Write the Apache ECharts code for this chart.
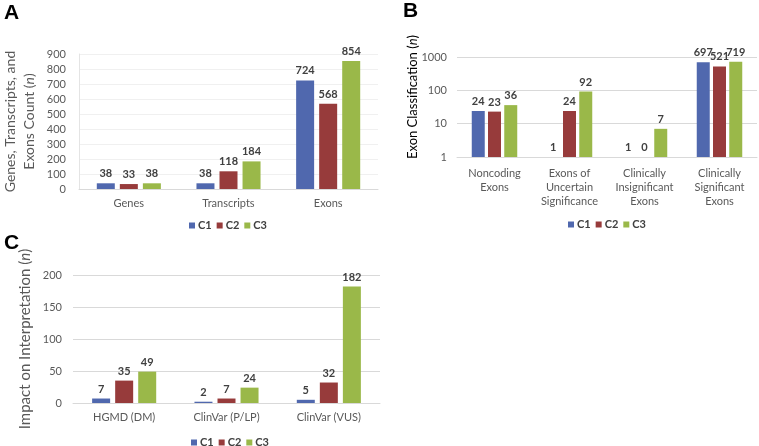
<!DOCTYPE html>
<html>
<head>
<meta charset="utf-8">
<script src="https://cdn.jsdelivr.net/npm/echarts@6/dist/echarts.min.js"></script>
<style>
  html, body { margin: 0; padding: 0; background: #fff; }
  #chart { width: 759px; height: 446px; }
</style>
</head>
<body>
<div id="chart"></div>
<script>
// panel A - counts
const catsA = ['Genes', 'Transcripts', 'Exons'];
const a_c1 = [38, 38, 724];
const a_c2 = [33, 118, 568];
const a_c3 = [38, 184, 854];

// panel B - exon classification (log scale)
const catsB = ['Noncoding\nExons', 'Exons of\nUncertain\nSignificance', 'Clinically\nInsignificant\nExons', 'Clinically\nSignificant\nExons'];
const b_c1 = [24, 1, 1, 697];
const b_c2 = [23, 24, 0, 521];
const b_c3 = [36, 92, 7, 719];

// panel C - impact on interpretation
const catsC = ['HGMD (DM)', 'ClinVar (P/LP)', 'ClinVar (VUS)'];
const c_c1 = [7, 2, 5];
const c_c2 = [35, 7, 32];
const c_c3 = [49, 24, 182];

const seriesNames = ['C1', 'C2', 'C3'];
const colors = ['#5068AE', '#973B3B', '#9AB849'];

const FONT = 'Lato, "Open Sans", sans-serif';
const gray = '#595959';

let chart = echarts.init(document.getElementById('chart'));

function barSeries(name, data, idx, color, cfg) {
  return {
    name: name,
    type: 'bar',
    xAxisIndex: idx,
    yAxisIndex: idx,
    // log axis cannot show 0, so it sits on the baseline
    data: cfg.log ? data.map(v => Math.max(v, 1)) : data,
    barWidth: cfg.barWidth,
    barGap: cfg.barGap,
    itemStyle: { color: color },
    label: {
      show: true,
      position: 'top',
      distance: 4,
      fontFamily: FONT,
      fontWeight: 'bold',
      fontSize: 11,
      color: '#404040',
      formatter: p => String(data[p.dataIndex])
    }
  };
}

function legend(left, top) {
  return {
    left: left, top: top,
    data: seriesNames,
    icon: 'rect',
    itemWidth: 6, itemHeight: 6, itemGap: 5,
    textStyle: { fontFamily: FONT, fontWeight: 'bold', fontSize: 11, color: '#404040', padding: [0, 0, 0, -2] }
  };
}

function nameStyle(size) {
  return {
    fontFamily: FONT, fontSize: size, color: gray, lineHeight: size + 5,
    rich: { i: { fontFamily: FONT, fontSize: size, color: gray, fontStyle: 'italic' } }
  };
}

const valueLabel = { fontFamily: FONT, fontSize: 11, color: gray };
const letterFont = 'bold 21px "Liberation Sans", Arial, sans-serif';

let option = {
  animation: false,
  textStyle: { fontFamily: FONT },
  graphic: [
    { type: 'text', left: 4, top: 3, style: { text: 'A', font: letterFont, fill: '#000' } },
    { type: 'text', left: 403, top: 1, style: { text: 'B', font: letterFont, fill: '#000' } },
    { type: 'text', left: 4, top: 233, style: { text: 'C', font: letterFont, fill: '#000' } },
    // panel B axis title sits a little above the plot middle
    { type: 'text', x: 413, y: 97, rotation: Math.PI / 2,
      style: Object.assign({ text: 'Exon Classification ({i|n})', align: 'center', verticalAlign: 'middle' }, nameStyle(13)) }
  ],
  legend: [legend(184, 215), legend(563, 214), legend(186, 432)],
  grid: [
    { left: 73, top: 54, width: 305, height: 135 },
    { left: 457, top: 57, width: 300, height: 100 },
    { left: 73, top: 275, width: 307, height: 128 }
  ],
  xAxis: [
    { type: 'category', gridIndex: 0, data: catsA, axisTick: { show: false },
      axisLine: { lineStyle: { color: '#d9d9d9' } }, axisLabel: Object.assign({ margin: 9, interval: 0 }, valueLabel) },
    { type: 'category', gridIndex: 1, data: catsB, axisTick: { show: false },
      axisLine: { lineStyle: { color: '#d9d9d9' } }, axisLabel: Object.assign({ margin: 9, lineHeight: 14, interval: 0 }, valueLabel) },
    { type: 'category', gridIndex: 2, data: catsC, axisTick: { show: false },
      axisLine: { lineStyle: { color: '#d9d9d9' } }, axisLabel: Object.assign({ margin: 9, interval: 0 }, valueLabel) }
  ],
  yAxis: [
    { type: 'value', gridIndex: 0, min: 0, max: 900, interval: 100,
      axisLine: { show: true, lineStyle: { color: '#e4e4e4' } },
      splitLine: { lineStyle: { color: '#f0f0f0' } },
      axisLabel: Object.assign({ margin: 13 }, valueLabel),
      name: 'Genes, Transcripts, and\nExons Count ({i|n})', nameLocation: 'middle', nameGap: 40,
      nameTextStyle: nameStyle(14) },
    { type: 'log', gridIndex: 1, min: 1, max: 1000, logBase: 10,
      axisLine: { show: false },
      splitLine: { lineStyle: { color: '#d9d9d9' } },
      axisLabel: Object.assign({ margin: 10, formatter: v => String(Math.round(v)) }, valueLabel) },
    { type: 'value', gridIndex: 2, min: 0, max: 200, interval: 50,
      axisLine: { show: false },
      splitLine: { lineStyle: { color: '#d9d9d9' } },
      axisLabel: Object.assign({ margin: 11 }, valueLabel),
      name: 'Impact on Interpretation ({i|n})', nameLocation: 'middle', nameGap: 38,
      nameTextStyle: nameStyle(15) }
  ],
  series: [
    barSeries('C1', a_c1, 0, colors[0], { barWidth: 18, barGap: '28%' }),
    barSeries('C2', a_c2, 0, colors[1], { barWidth: 18, barGap: '28%' }),
    barSeries('C3', a_c3, 0, colors[2], { barWidth: 18, barGap: '28%' }),
    barSeries('C1', b_c1, 1, colors[0], { barWidth: 13, barGap: '25%', log: true }),
    barSeries('C2', b_c2, 1, colors[1], { barWidth: 13, barGap: '25%', log: true }),
    barSeries('C3', b_c3, 1, colors[2], { barWidth: 13, barGap: '25%', log: true }),
    barSeries('C1', c_c1, 2, colors[0], { barWidth: 18, barGap: '28%' }),
    barSeries('C2', c_c2, 2, colors[1], { barWidth: 18, barGap: '28%' }),
    barSeries('C3', c_c3, 2, colors[2], { barWidth: 18, barGap: '28%' })
  ]
};

option && chart.setOption(option);
</script>
</body>
</html>
